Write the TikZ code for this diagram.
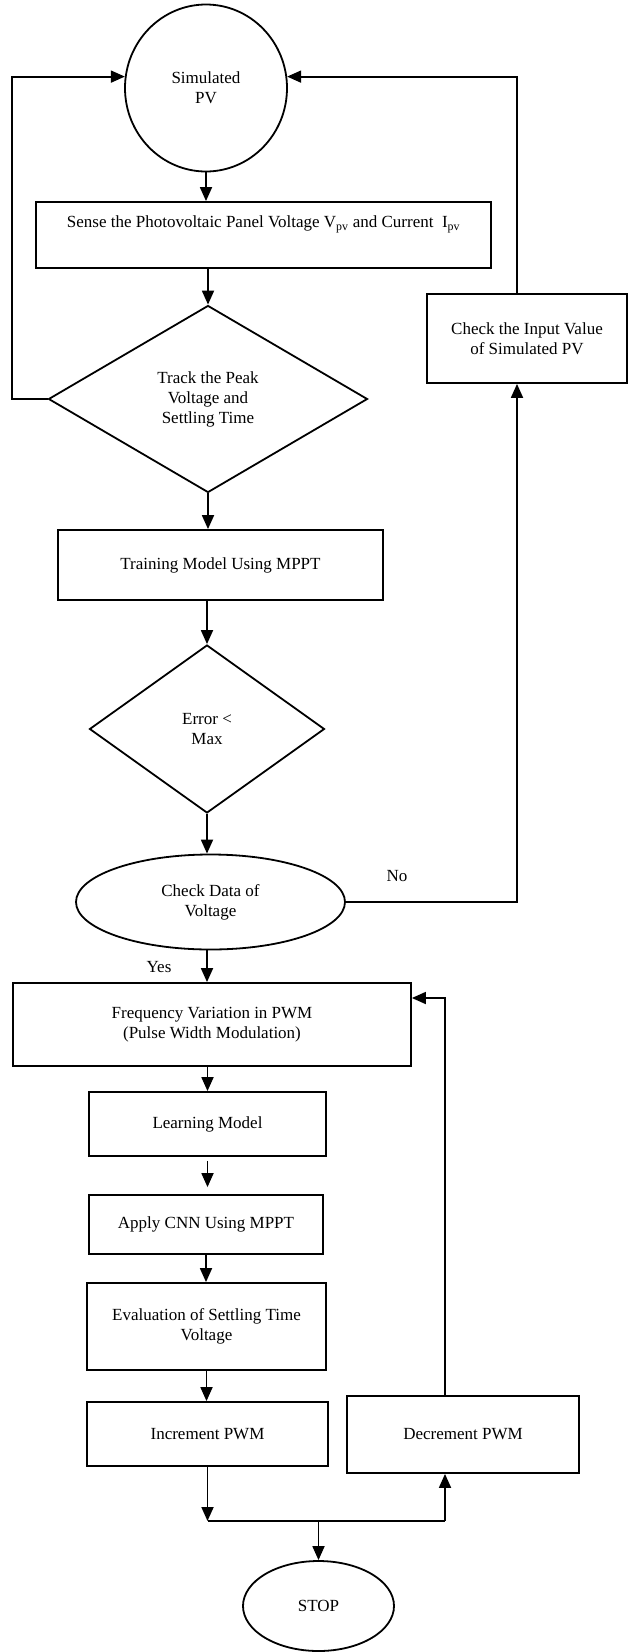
\documentclass[tikz,border=0pt]{standalone}
\usepackage{fontspec}
\setmainfont{Liberation Serif}
\usetikzlibrary{shapes.geometric,arrows.meta}

\begin{document}
\begin{tikzpicture}[x=1pt,y=-1pt,
  font=\fontsize{17}{20}\selectfont,
  box/.style={draw, line width=1.8pt, rectangle, inner sep=0pt, align=center},
  dec/.style={draw, line width=1.8pt, diamond, inner sep=0pt, align=center},
  oval/.style={draw, line width=1.8pt, ellipse, inner sep=0pt, align=center},
  arr/.style={line width=1.8pt, -{Triangle[length=14pt,width=12pt]}}]
\useasboundingbox (0,0) rectangle (629,1652);

% main column
\node[oval, minimum width=162, minimum height=167] (pv) at (206,88) {Simulated\\PV};
\node[box, minimum width=455, minimum height=66] (sense) at (263.5,235) {Sense the Photovoltaic Panel Voltage V\textsubscript{pv} and Current\ \ I\textsubscript{pv}\\ \strut};
\node[dec, minimum width=319, minimum height=187] (track) at (208,399) {Track the Peak\\Voltage and\\Settling Time};
\node[box, minimum width=325, minimum height=70] (train) at (220.5,565) {Training Model Using MPPT};
\node[dec, minimum width=235, minimum height=168] (err) at (207,729) {Error <\\Max};
\node[oval, minimum width=269, minimum height=95] (chkdata) at (210.5,902) {Check Data of\\Voltage};
\node[box, minimum width=398, minimum height=83] (freq) at (212,1024.5) {Frequency Variation in PWM\\(Pulse Width Modulation)};
\node[box, minimum width=237, minimum height=64] (learn) at (207.5,1124) {Learning Model};
\node[box, minimum width=234, minimum height=59] (cnn) at (206,1224.5) {Apply CNN Using MPPT};
\node[box, minimum width=239, minimum height=87] (eval) at (206.5,1326.5) {Evaluation of Settling Time\\Voltage};
\node[box, minimum width=241, minimum height=64] (incr) at (207.5,1434) {Increment PWM};
\node[oval, minimum width=151, minimum height=90] (stop) at (318.5,1606) {STOP};

% right side
\node[box, minimum width=200, minimum height=89] (chkin) at (527,338.5) {Check the Input Value\\of Simulated PV};
\node[box, minimum width=232, minimum height=77] (decr) at (463,1434.5) {Decrement PWM};

\node (yes) at (159,967) {Yes};
\node (no) at (397,876) {No};

\coordinate (jl) at (207.5,1521);
\coordinate (jr) at (445,1521);

\draw[arr] (pv.south) -- (pv.south |- sense.north);
\draw[arr] (track.north |- sense.south) -- (track.north);
\draw[arr] (track.south) -- (track.south |- train.north);
\draw[arr] (err.north |- train.south) -- (err.north);
\draw[arr] (err.south) -- (err.south |- chkdata.north);
\draw[arr] (err.south |- chkdata.south) -- (err.south |- freq.north);
\draw[arr] (learn.north |- freq.south) -- (learn.north);
\draw[arr, shorten <=4pt, shorten >=7pt] (learn.south) -- (learn.south |- cnn.north);
\draw[arr] (cnn.south) -- (cnn.south |- eval.north);
\draw[arr] (eval.south) -- (eval.south |- incr.north);
\draw[arr] (incr.south) -- (incr.south |- jl);
\draw[line width=1.2pt] (incr.south |- jl) -- (jr);
\draw[arr] (jr) -- (jr |- decr.south);
\draw[arr] (stop.north |- jl) -- (stop.north);

% loops back
\draw[arr] ([xshift=-18pt]decr.north) |- ([yshift=26.5pt]freq.east);
\draw[arr] (chkdata.east) -| ([xshift=-10pt]chkin.south);
\draw[arr] ([xshift=-10pt]chkin.north) |- (pv.8);
\draw[arr] (track.west) -- ++(-36,0) |- (pv.172);
\end{tikzpicture}
\end{document}
